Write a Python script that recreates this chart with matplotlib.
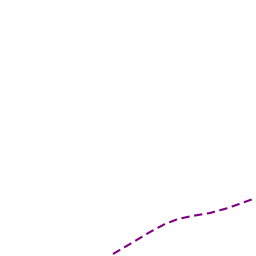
import matplotlib
matplotlib.use("Agg")
import matplotlib.pyplot as plt

# line samples (pixel space, y down)
xs = [113, 130, 150, 165, 178, 192, 210, 228, 253]
ys = [254, 244, 232, 224, 219, 216, 213, 208, 199]

fig = plt.figure(figsize=(2.56, 2.56), dpi=100)
ax = fig.add_axes([0, 0, 1, 1])
ax.plot(xs, ys, color="#800080", linewidth=1.5, linestyle=(0, (4, 2.2)))
ax.set_xlim(0, 256)
ax.set_ylim(256, 0)
ax.axis("off")
fig.savefig("out.png", dpi=100)
